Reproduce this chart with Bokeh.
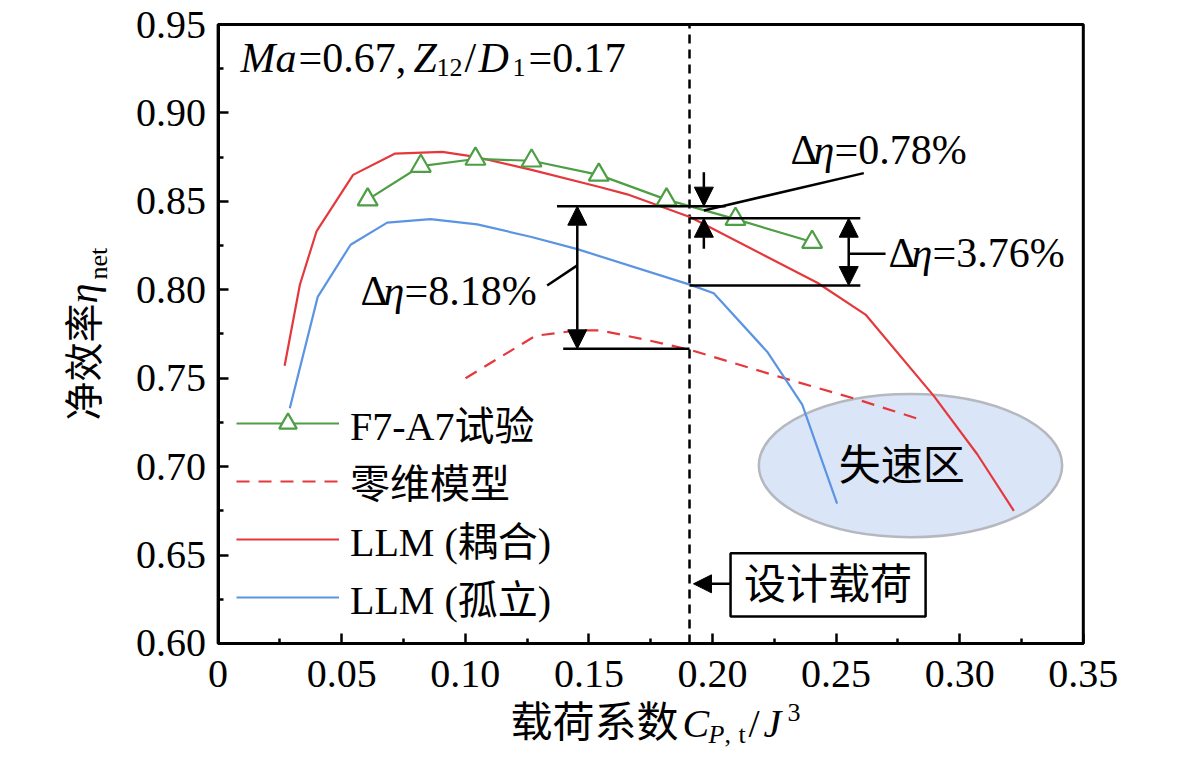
import math
from bokeh.plotting import figure
from bokeh.models import (Range1d, FixedTicker, CustomJSTickFormatter, PrintfTickFormatter,
                          LinearAxis, Label, Arrow, NormalHead, BoxAnnotation,
                          Legend, LegendItem)
from bokeh.embed import file_html
from bokeh.resources import INLINE

# ---------------- data ----------------
x_ticks = [0, 0.05, 0.10, 0.15, 0.20, 0.25, 0.30, 0.35]
x_minor = [0.025, 0.075, 0.125, 0.175, 0.225, 0.275, 0.325]
y_ticks = [0.60, 0.65, 0.70, 0.75, 0.80, 0.85, 0.90, 0.95]
y_minor = [0.625, 0.675, 0.725, 0.775, 0.825, 0.875, 0.925]
x_lim = (0, 0.35)
y_lim = (0.60, 0.95)

# F7-A7 experiment
x_exp = [0.0605, 0.0820, 0.1041, 0.1268, 0.1540, 0.1814, 0.2093, 0.2403]
y_exp = [0.851, 0.870, 0.874, 0.873, 0.865, 0.851, 0.840, 0.827]

# zero-dimensional model
x_0d = [0.1001, 0.1284, 0.1453, 0.1547, 0.1722, 0.1911, 0.2275, 0.2585, 0.2855]
y_0d = [0.750, 0.774, 0.777, 0.777, 0.772, 0.766, 0.7506, 0.738, 0.726]

# LLM (coupled)
x_cpl = [0.0269, 0.0331, 0.0398, 0.0546, 0.0714, 0.0907, 0.1048, 0.1264, 0.1547,
         0.1655, 0.1911, 0.2424, 0.2619, 0.2895, 0.3071, 0.3219]
y_cpl = [0.757, 0.803, 0.833, 0.865, 0.877, 0.878, 0.875, 0.868, 0.858,
         0.854, 0.841, 0.804, 0.786, 0.740, 0.707, 0.675]

# LLM (isolated)
x_iso = [0.0290, 0.0403, 0.0536, 0.0684, 0.0859, 0.1048, 0.1264, 0.1453, 0.1911,
         0.2005, 0.2221, 0.2363, 0.2504]
y_iso = [0.733, 0.796, 0.8255, 0.838, 0.840, 0.837, 0.830, 0.823, 0.8028,
         0.798, 0.765, 0.735, 0.679]

# design point values
design_load = 0.1907
eta_exp_d = 0.8473
eta_cpl_d = 0.8405
eta_iso_d = 0.8024
eta_0d_d = 0.7666

# stall region
stall_x, stall_y, stall_w, stall_h = 0.2801, 0.7006, 0.1227, 0.0811

# ---------------- styling ----------------
FONT = "'Liberation Serif', 'Noto Sans CJK SC'"
RED = "#E5383D"
BLUE = "#5B94E2"
GREEN = "#4E9E45"
MID = 0.3375  # distance of the text box middle above the baseline, in em

# The canvas is the frame; the axes are drawn at fixed data locations so that the
# composed axis titles (rich text) can sit inside the drawable area.
p = figure(width=1165, height=749, x_range=Range1d(-0.08803, 0.38325),
           y_range=Range1d(0.53999, 0.96363), output_backend="svg", toolbar_location=None,
           x_axis_location=None, y_axis_location=None, min_border=0)
p.background_fill_color = "white"
p.border_fill_color = "white"
p.outline_line_color = None
p.xgrid.visible = False
p.ygrid.visible = False

xa = LinearAxis(fixed_location=y_lim[0], bounds=x_lim,
                ticker=FixedTicker(ticks=x_ticks, minor_ticks=x_minor),
                formatter=CustomJSTickFormatter(code="return Math.abs(tick) < 1e-9 ? '0' : tick.toFixed(2);"))
ya = LinearAxis(fixed_location=x_lim[0], bounds=y_lim,
                ticker=FixedTicker(ticks=y_ticks, minor_ticks=y_minor),
                formatter=PrintfTickFormatter(format="%.2f"))
for ax in (xa, ya):
    ax.axis_line_width = 3
    ax.major_tick_in = 10
    ax.major_tick_out = 0
    ax.minor_tick_in = 5
    ax.minor_tick_out = 0
    ax.major_tick_line_width = 2.5
    ax.minor_tick_line_width = 2.5
    ax.major_label_text_font = FONT
    ax.major_label_text_font_size = "40px"
    ax.major_label_text_color = "black"
xa.major_label_standoff = 18
ya.major_label_standoff = 12
p.add_layout(xa, "below")
p.add_layout(ya, "left")

# plot frame box
p.add_layout(BoxAnnotation(left=x_lim[0], right=x_lim[1], bottom=y_lim[0], top=y_lim[1],
                           fill_color=None, line_color="black", line_alpha=1, line_width=3))

# stall ellipse (behind curves)
p.ellipse(x=[stall_x], y=[stall_y], width=[stall_w], height=[stall_h],
          fill_color="#DAE5F7", line_color="#B5B8BE", line_width=2.5)

# design load line
p.segment(x0=[design_load], y0=[y_lim[0]], x1=[design_load], y1=[y_lim[1]],
          line_color="black", line_width=2.5, line_dash="9 6")

# curves
r_0d = p.line(x_0d, y_0d, line_color=RED, line_width=2.2, line_dash="13 9")
r_cpl = p.line(x_cpl, y_cpl, line_color=RED, line_width=2.2)
r_iso = p.line(x_iso, y_iso, line_color=BLUE, line_width=2.2)
r_exp_l = p.line(x_exp, y_exp, line_color=GREEN, line_width=2.2)
r_exp_m = p.scatter(x_exp, y_exp, marker="triangle", size=20, fill_color="white",
                    line_color=GREEN, line_width=2.2)

# annotation reference lines
p.segment(x0=[0.1371, design_load, design_load, 0.1396],
          y0=[eta_exp_d, eta_cpl_d, eta_iso_d, eta_0d_d],
          x1=[0.2053, 0.2598, 0.2598, design_load],
          y1=[eta_exp_d, eta_cpl_d, eta_iso_d, eta_0d_d],
          line_color="black", line_width=2.5)
# leader lines
p.segment(x0=[0.1331, 0.1965, 0.2551], y0=[0.8024, 0.8449, 0.8204],
          x1=[0.1453, 0.2612, 0.2700], y1=[0.8138, 0.8660, 0.8204],
          line_color="black", line_width=2.5)

def head():
    return NormalHead(size=19, fill_color="black", line_color="black", line_width=1)

p.add_layout(Arrow(start=head(), end=head(), x_start=0.1453, y_start=eta_exp_d,
                   x_end=0.1453, y_end=eta_0d_d, line_width=2.5))
p.add_layout(Arrow(end=head(), x_start=0.1965, y_start=0.8665,
                   x_end=0.1965, y_end=eta_exp_d, line_width=2.5))
p.add_layout(Arrow(end=head(), x_start=0.1965, y_start=0.8232,
                   x_end=0.1965, y_end=eta_cpl_d, line_width=2.5))
p.add_layout(Arrow(start=head(), end=head(), x_start=0.2551, y_start=eta_cpl_d,
                   x_end=0.2551, y_end=eta_iso_d, line_width=2.5))

# design load box and arrow
p.add_layout(BoxAnnotation(left=0.2073, right=0.2862, bottom=0.6152, top=0.6510,
                           fill_color="white", fill_alpha=1, line_color="black",
                           line_alpha=1, line_width=2.5))
p.add_layout(Arrow(end=NormalHead(size=18, fill_color="black", line_color="black"),
                   x_start=0.2073, y_start=0.6337, x_end=0.1923, y_end=0.6337, line_width=2.5))
p.add_layout(Label(x=0.2467, y=0.6331, text="设计载荷", text_font=FONT, text_font_size="42px",
                   text_align="center", text_baseline="middle", text_color="black"))
p.add_layout(Label(x=stall_x - 0.0035, y=stall_y, text="失速区", text_font=FONT,
                   text_font_size="42px", text_align="center", text_baseline="middle",
                   text_color="black"))


def rich(x, y, segs):
    """Place text pieces on a common baseline at (x, y); dx along, dy up (pixels)."""
    for txt, dx, dy, size, style in segs:
        p.add_layout(Label(x=x, y=y, x_offset=dx, y_offset=dy + MID * size, text=txt,
                           text_font=FONT, text_font_size=f"{size}px", text_font_style=style,
                           text_baseline="middle", text_align="left", text_color="black"))


def delta_text(x, y, rest):
    rich(x, y, [("Δ", 0, 0, 42, "normal"), ("η", 23, 0, 42, "italic"), (rest, 44, 0, 42, "normal")])

delta_text(0.0576, 0.7911, "=8.18%")
delta_text(0.2316, 0.8713, "=0.78%")
delta_text(0.2712, 0.8128, "=3.76%")

rich(0.0091, 0.9231, [("Ma", 0, 0, 42, "italic"), ("=0.67,", 58, 0, 42, "normal"),
                      ("Z", 173, 0, 42, "italic"), ("12", 196, -4, 26, "normal"),
                      ("/", 224, 0, 42, "normal"), ("D", 238, 0, 42, "italic"),
                      ("1", 272, -4, 26, "normal"), ("=0.17", 288, 0, 42, "normal")])

# x axis title (composed)
rich(0.1183, 0.5468, [("载荷系数", 0, 0, 42, "normal"), ("C", 172, 0, 40, "italic"),
                      ("P", 198, -6, 26, "italic"), (",", 214, -6, 26, "normal"),
                      ("t", 228, -6, 26, "normal"), ("/", 238, 0, 40, "normal"),
                      ("J", 253, 0, 40, "italic"), ("3", 277, 16, 26, "normal")])

# y axis title (composed, rotated); text runs upwards, its "up" points left
for txt, along, shift, size, style in [("净效率", 0, 0, 39, "normal"), ("η", 117, 0, 40, "italic"),
                                        ("net", 141, 10, 26, "normal")]:
    p.add_layout(Label(x=-0.0488, y=0.7261, x_offset=shift - MID * size, y_offset=along,
                       text=txt, text_font=FONT, text_font_size=f"{size}px",
                       text_font_style=style, text_baseline="middle", text_align="left",
                       angle=math.pi / 2, text_color="black"))

legend = Legend(items=[
    LegendItem(label="F7-A7试验", renderers=[r_exp_l, r_exp_m]),
    LegendItem(label="零维模型", renderers=[r_0d]),
    LegendItem(label="LLM (耦合)", renderers=[r_cpl]),
    LegendItem(label="LLM (孤立)", renderers=[r_iso]),
], location=(236, 123), glyph_width=103, glyph_height=44, label_height=44, spacing=-2,
    label_standoff=11, padding=0, margin=0, border_line_color=None,
    background_fill_alpha=0, label_text_font=FONT, label_text_font_size="40px",
    label_text_color="black")
p.add_layout(legend)

open("out.html", "w").write(file_html(p, INLINE))
